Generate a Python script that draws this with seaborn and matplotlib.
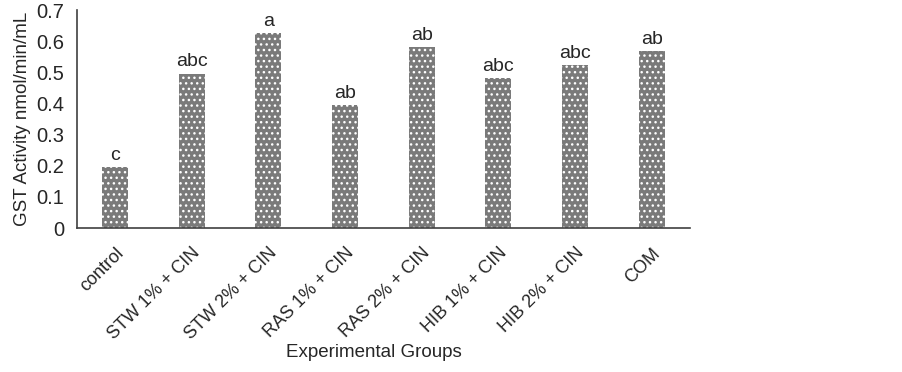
import seaborn as sns
import matplotlib.pyplot as plt
import pandas as pd

sns.set_style("white")
plt.rcParams['font.family'] = ['Liberation Sans', 'DejaVu Sans']
plt.rcParams['hatch.linewidth'] = 1.0

groups = ['control', 'STW 1% + CIN', 'STW 2% + CIN', 'RAS 1% + CIN',
          'RAS 2% + CIN', 'HIB 1% + CIN', 'HIB 2% + CIN', 'COM']
gst = [0.195, 0.497, 0.628, 0.397, 0.583, 0.482, 0.523, 0.568]
letters = ['c', 'abc', 'a', 'ab', 'ab', 'abc', 'abc', 'ab']

df = pd.DataFrame({'group': groups, 'gst': gst})

fig, ax = plt.subplots(figsize=(9.03, 3.72), dpi=100)
sns.barplot(data=df, x='group', y='gst', color='#7a7a7a', width=0.34,
            saturation=1, ax=ax)

# grey bars with a white dot pattern
for bar, lab in zip(ax.patches, letters):
    bar.set_hatch('...')
    bar.set_edgecolor('white')
    bar.set_linewidth(0)
    ax.text(bar.get_x() + bar.get_width() / 2, bar.get_height() + 0.01, lab,
            ha='center', va='bottom', fontsize=14)

ax.set_ylim(0, 0.7)
ax.set_xlim(-0.5, 7.5)
ax.set_yticks([0, 0.1, 0.2, 0.3, 0.4, 0.5, 0.6, 0.7])
ax.set_yticklabels(['0', '0.1', '0.2', '0.3', '0.4', '0.5', '0.6', '0.7'], fontsize=14.5)
ax.tick_params(axis='y', length=0, pad=9)
ax.tick_params(axis='x', length=0, pad=12)
plt.setp(ax.get_xticklabels(), rotation=45, ha='right', rotation_mode='anchor', fontsize=13)
ax.set_xlabel('Experimental Groups', fontsize=13.5)
ax.set_ylabel('GST Activity nmol/min/mL', fontsize=13.5, labelpad=4)
ax.xaxis.set_label_coords(0.484, -0.535)

sns.despine(ax=ax)
for s in ['left', 'bottom']:
    ax.spines[s].set_color('#404040')
    ax.spines[s].set_linewidth(1.2)

fig.subplots_adjust(left=0.085, right=0.764, top=0.972, bottom=0.387)
fig.savefig('out.png', dpi=100)
